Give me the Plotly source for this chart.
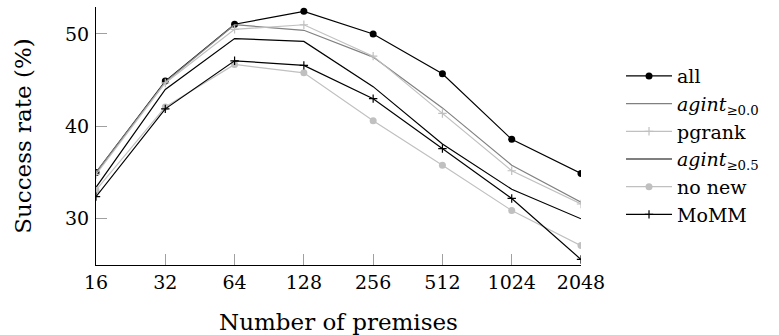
import plotly.graph_objects as go

premises = [16, 32, 64, 128, 256, 512, 1024, 2048]
tick_labels = ["16", "32", "64", "128", "256", "512", "1024", "2048"]

all_vals = [35.0, 44.9, 51.05, 52.45, 50.0, 45.7, 38.6, 34.9]
agint00 = [35.0, 44.8, 51.0, 50.4, 47.5, 42.0, 35.8, 31.8]
pgrank = [34.8, 44.7, 50.5, 51.0, 47.6, 41.4, 35.2, 31.6]
agint05 = [33.4, 44.0, 49.5, 49.2, 44.3, 38.1, 33.2, 30.0]
no_new = [33.1, 42.1, 46.7, 45.8, 40.6, 35.8, 30.9, 27.1]
momm = [32.4, 41.9, 47.1, 46.6, 43.0, 37.6, 32.2, 25.6]

FONT = "DejaVu Serif"
fig = go.Figure()

def add(name, y, color, mode, symbol=None, msize=7, mline=0):
    marker = dict(color=color, size=msize)
    if symbol:
        marker["symbol"] = symbol
        marker["line"] = dict(color=color, width=mline)
    fig.add_trace(go.Scatter(x=premises, y=y, name=name, mode=mode,
                             line=dict(color=color, width=1.2),
                             marker=marker))

add("all", all_vals, "#000000", "lines+markers", "circle", 7)
add("<i>agint</i><sub>≥0.0</sub>", agint00, "#808080", "lines")
add("pgrank", pgrank, "#c0c0c0", "lines+markers", "cross-thin", 6, 1.2)
add("<i>agint</i><sub>≥0.5</sub>", agint05, "#000000", "lines")
add("no new", no_new, "#c0c0c0", "lines+markers", "circle", 7)
add("MoMM", momm, "#000000", "lines+markers", "cross-thin", 6, 1.2)

fig.update_layout(
    width=779, height=335,
    margin=dict(l=96, r=198, t=7, b=70, autoexpand=False),
    plot_bgcolor="white", paper_bgcolor="white",
    font=dict(family=FONT, size=19, color="black"),
    showlegend=True,
    legend=dict(x=1.0825, y=0.806, xanchor="left", yanchor="top",
                font=dict(family=FONT, size=19, color="black"),
                bgcolor="rgba(0,0,0,0)", itemwidth=46, tracegroupgap=0),
    xaxis=dict(type="log", range=[1.2041, 3.3113], automargin=False,
               tickvals=premises, ticktext=tick_labels,
               showgrid=False, zeroline=False,
               showline=True, linecolor="black", linewidth=1.2,
               ticks="inside", ticklen=11, tickcolor="#a0a0a0", tickwidth=1,
               title=dict(text="Number of premises", standoff=21)),
    yaxis=dict(range=[25.0, 52.92], tickvals=[30, 40, 50], automargin=False,
               showgrid=False, zeroline=False,
               showline=True, linecolor="black", linewidth=1.2,
               ticks="inside", ticklen=11, tickcolor="#a0a0a0", tickwidth=1,
               ticklabelstandoff=2,
               title=dict(text="Success rate (%)", standoff=26)),
)

fig.write_html("out.html", config={"displayModeBar": False},
               post_script="document.body.style.margin='0';")
